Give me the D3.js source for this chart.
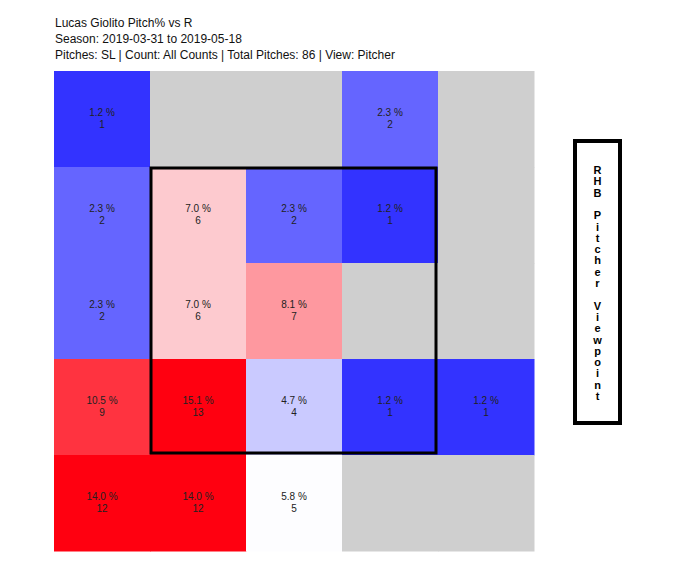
<!DOCTYPE html>
<html>
<head>
<meta charset="utf-8">
<script src="https://cdn.jsdelivr.net/npm/d3@7"></script>
<style>
  body { margin: 0; background: #fff; }
  svg { display: block; font-family: "Liberation Sans", Arial, Helvetica, sans-serif; }
</style>
</head>
<body>
<svg id="chart" width="677" height="570"></svg>
<script>
const titleLines = [
  "Lucas Giolito Pitch% vs R",
  "Season: 2019-03-31 to 2019-05-18",
  "Pitches: SL | Count: All Counts | Total Pitches: 86 | View: Pitcher"
];
const rows = [0, 1, 2, 3, 4];
const cols = [0, 1, 2, 3, 4];
// counts per zone, top row first (null = no pitches)
const counts = [
  [1,    null, null, 2,    null],
  [2,    6,    2,    1,    null],
  [2,    6,    7,    null, null],
  [9,    13,   4,    1,    1],
  [12,   12,   5,    null, null]
];
const pctLabels = [
  ["1.2",  null,   null,  "2.3", null],
  ["2.3",  "7.0",  "2.3", "1.2", null],
  ["2.3",  "7.0",  "8.1", null,  null],
  ["10.5", "15.1", "4.7", "1.2", "1.2"],
  ["14.0", "14.0", "5.8", null,  null]
];
const sideLabel = "RHB Pitcher Viewpoint";

const svg = d3.select("#chart");

// title
svg.append("g").selectAll("text").data(titleLines).join("text")
  .attr("x", 55).attr("y", (d, i) => 27 + i * 16)
  .attr("font-size", 12).attr("fill", "#111").text(d => d);

const x = d3.scaleBand().domain(cols).range([54, 534]);
const y = d3.scaleBand().domain(rows).range([71, 551]);
const color = d3.scaleLinear().domain([0, 5, 10])
  .range(["#0000ff", "#fdfdff", "#ff0010"]).clamp(true);

const cells = [];
rows.forEach(r => cols.forEach(c => cells.push({ r, c, n: counts[r][c], p: pctLabels[r][c] })));

const g = svg.append("g");
g.selectAll("rect").data(cells).join("rect")
  .attr("x", d => x(d.c)).attr("y", d => y(d.r))
  .attr("width", x.bandwidth() + 0.5).attr("height", y.bandwidth() + 0.5)
  .attr("fill", d => d.n == null ? "#cfcfcf" : color(d.n));

const lbl = g.selectAll("g.lbl").data(cells.filter(d => d.n != null)).join("g").attr("class", "lbl");
lbl.append("text")
  .attr("x", d => x(d.c) + x.bandwidth() / 2)
  .attr("y", d => y(d.r) + y.bandwidth() / 2 - 3)
  .attr("text-anchor", "middle").attr("font-size", 10).attr("fill", "#222")
  .text(d => d.p + " %");
lbl.append("text")
  .attr("x", d => x(d.c) + x.bandwidth() / 2)
  .attr("y", d => y(d.r) + y.bandwidth() / 2 + 8.5)
  .attr("text-anchor", "middle").attr("font-size", 10).attr("fill", "#222")
  .text(d => d.n);

// strike zone
svg.append("rect")
  .attr("x", x(1) + 1).attr("y", y(1) + 1)
  .attr("width", x(4) - x(1) - 3).attr("height", y(4) - y(1) - 3)
  .attr("fill", "none").attr("stroke", "#000").attr("stroke-width", 3);

// side label box
svg.append("rect")
  .attr("x", 575).attr("y", 141).attr("width", 45).attr("height", 282)
  .attr("fill", "none").attr("stroke", "#000").attr("stroke-width", 4);
svg.append("g").selectAll("text").data(sideLabel.split("")).join("text")
  .attr("x", 597.5).attr("y", (d, i) => 174 + i * 11.3)
  .attr("text-anchor", "middle").attr("font-size", 11).attr("font-weight", "bold")
  .attr("fill", "#000").text(d => d);
</script>
</body>
</html>
